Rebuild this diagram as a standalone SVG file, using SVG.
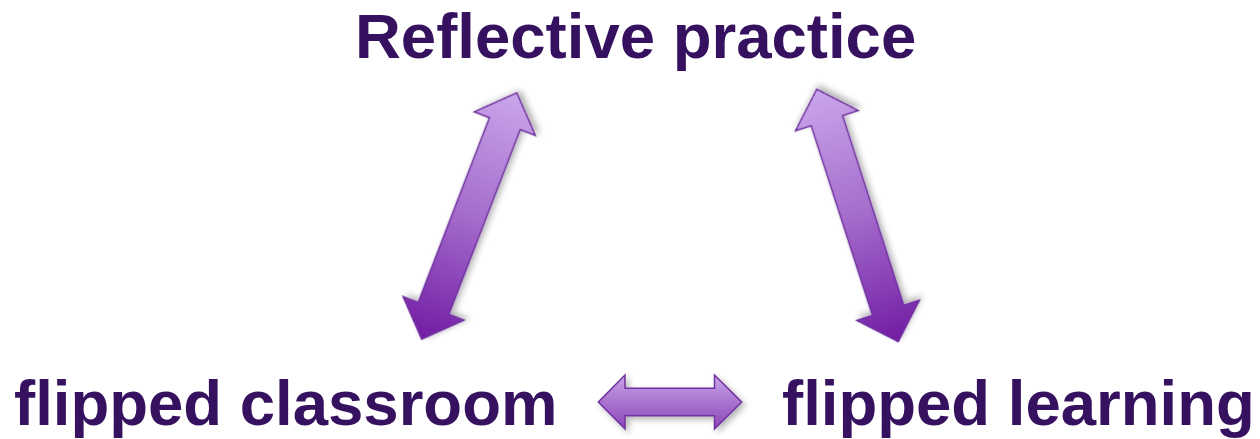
<svg xmlns="http://www.w3.org/2000/svg" width="1260" height="439" viewBox="0 0 1260 439">
  <style>
    .lbl { font-family: "Liberation Sans", Arial, sans-serif; font-weight: bold; font-size: 63.5px; fill: #36115f; }
    .arr { stroke: #7030a0; stroke-width: 1.5; stroke-linejoin: miter; }
  </style>
  <defs>
    <linearGradient id="gLong" x1="1" y1="0" x2="0" y2="0">
      <stop offset="0" stop-color="#caa6ea"/>
      <stop offset="0.5" stop-color="#a46ccc"/>
      <stop offset="1" stop-color="#721ca3"/>
    </linearGradient>
    <linearGradient id="gHoriz" x1="0" y1="0" x2="0" y2="1">
      <stop offset="0" stop-color="#c8a4e8"/>
      <stop offset="1" stop-color="#8c44b8"/>
    </linearGradient>
    <filter id="shadow" x="-20%" y="-20%" width="140%" height="140%">
      <feGaussianBlur in="SourceAlpha" stdDeviation="3"/>
      <feOffset dx="3" dy="3" result="b"/>
      <feComponentTransfer><feFuncA type="linear" slope="0.3"/></feComponentTransfer>
      <feMerge><feMergeNode/><feMergeNode in="SourceGraphic"/></feMerge>
    </filter>
  </defs>

  <g id="connectors">
    <g id="arrow-left" transform="translate(469.2,216) rotate(-68.9)">
      <polygon class="arr" fill="url(#gLong)" filter="url(#shadow)" points="132,0 99,-32.7 99,-16.6 -99,-16.6 -99,-32.7 -132,0 -99,32.7 -99,16.6 99,16.6 99,32.7"/>
    </g>
    <g id="arrow-right" transform="translate(857.5,215.5) rotate(-107.9)">
      <polygon class="arr" fill="url(#gLong)" filter="url(#shadow)" points="132.6,0 99.6,-33 99.6,-16.6 -99.6,-16.6 -99.6,-33 -132.6,0 -99.6,33 -99.6,16.6 99.6,16.6 99.6,33"/>
    </g>
    <g id="arrow-bottom">
      <polygon class="arr" fill="url(#gHoriz)" filter="url(#shadow)" points="598.3,402 625,375 625,388.3 714.5,388.3 714.5,375 741.7,402 714.5,429 714.5,415.7 625,415.7 625,429"/>
    </g>
  </g>

  <g id="node-reflective">
    <text class="lbl" x="355" y="58">Reflective practice</text>
  </g>
  <g id="node-classroom">
    <text class="lbl" x="14" y="425">flipped classroom</text>
  </g>
  <g id="node-learning">
    <text class="lbl" x="782" y="425">flipped learning</text>
  </g>
</svg>
